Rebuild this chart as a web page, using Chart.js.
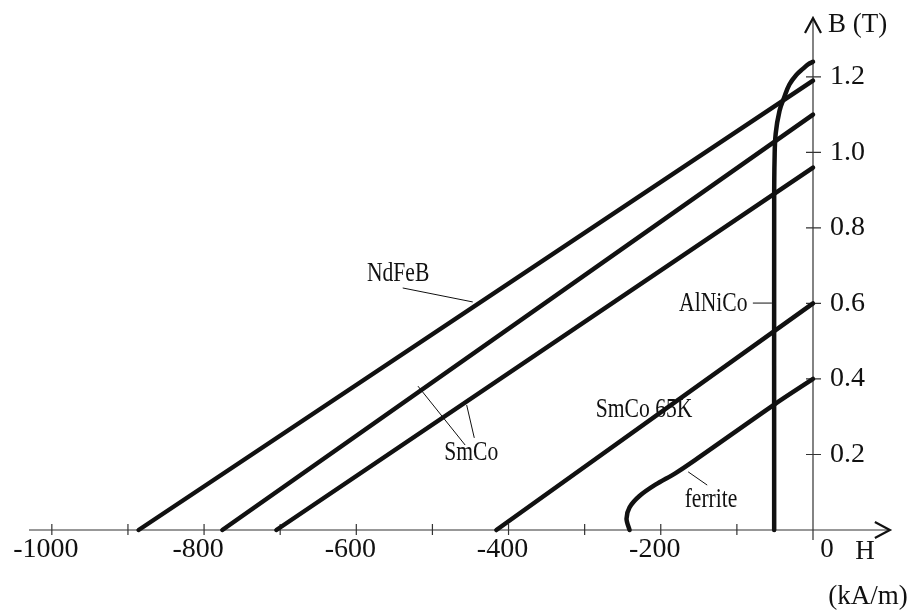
<!DOCTYPE html>
<html lang="en">
<head>
<meta charset="UTF-8">
<title>Demagnetisation curves B(H)</title>
<script src="https://cdn.jsdelivr.net/npm/chart.js@4.4.0/dist/chart.umd.min.js"></script>
<style>
  body { margin: 0; background: #fff; }
  #bh { display: block; }
</style>
</head>
<body>
<canvas id="bh" width="907" height="613"></canvas>
<script>
// H in kA/m, B in T
const ndfebH = [-886, 0];
const ndfebB = [0, 1.19];
const smco1H = [-776, 0];
const smco1B = [0, 1.10];
const smco2H = [-705, 0];
const smco2B = [0, 0.96];
const smco65kH = [-416, 0];
const smco65kB = [0, 0.60];
const ferriteH = [-241, -245, -241, -228, -207, -181, -155, -51, 0];
const ferriteB = [0, 0.03, 0.06, 0.09, 0.12, 0.15, 0.185, 0.332, 0.40];
const alnicoH = [-51, -51, -50.5, -49, -44, -38, -31, -22, -13, -6, 0];
const alnicoB = [0, 0.87, 0.98, 1.05, 1.11, 1.145, 1.18, 1.205, 1.222, 1.234, 1.24];

const xTickValues = [-1000, -900, -800, -700, -600, -500, -400, -300, -200, -100];
const xTickLabels = ['-1000', '', '-800', '', '-600', '', '-400', '', '-200', ''];
const yTickValues = [0.2, 0.4, 0.6, 0.8, 1.0, 1.2];
const yTickLabels = ['0.2', '0.4', '0.6', '0.8', '1.0', '1.2'];

// curve names and their leader lines, in data units
const curveNames = [
  { text: 'NdFeB', h: -545, b: 0.678 },
  { text: 'SmCo', h: -449, b: 0.203 },
  { text: 'SmCo 65K', h: -222, b: 0.318 },
  { text: 'AlNiCo', h: -131, b: 0.599 },
  { text: 'ferrite', h: -134, b: 0.081 }
];
const leaders = [
  [-539, 0.641, -447, 0.604],
  [-457, 0.225, -519, 0.381],
  [-445, 0.244, -455, 0.331],
  [-79, 0.601, -54, 0.601],
  [-164, 0.154, -139, 0.119]
];

const serif = "'Liberation Serif', 'Times New Roman', serif";
const ink = '#111';

function pts(hs, bs) {
  return hs.map((h, i) => ({ x: h, y: bs[i] }));
}
function curve(hs, bs, tension) {
  return {
    data: pts(hs, bs),
    showLine: true,
    borderColor: ink,
    borderWidth: 4.5,
    borderCapStyle: 'round',
    borderJoinStyle: 'round',
    pointRadius: 0,
    tension: tension,
    clip: false
  };
}

const axesPlugin = {
  id: 'axesPlugin',
  beforeDatasetsDraw(chart) {
    const ctx = chart.ctx, xs = chart.scales.x, ys = chart.scales.y;
    const x0 = xs.getPixelForValue(0), y0 = ys.getPixelForValue(0);
    const xEnd = xs.getPixelForValue(101), yTop = chart.chartArea.top;
    ctx.save();
    ctx.strokeStyle = '#333';
    ctx.lineWidth = 1.2;
    ctx.beginPath();
    ctx.moveTo(chart.chartArea.left, y0); ctx.lineTo(xEnd, y0);
    ctx.moveTo(x0, y0 + 10); ctx.lineTo(x0, yTop);
    xs.ticks.forEach(t => {
      const px = xs.getPixelForValue(t.value);
      ctx.moveTo(px, y0 - 6); ctx.lineTo(px, y0 + 5);
    });
    ys.ticks.forEach(t => {
      const py = ys.getPixelForValue(t.value);
      ctx.moveTo(x0 - 7, py); ctx.lineTo(x0 + 8, py);
    });
    ctx.stroke();
    // open arrow heads
    ctx.strokeStyle = ink;
    ctx.lineWidth = 2.2;
    ctx.beginPath();
    ctx.moveTo(xEnd - 15, y0 - 8); ctx.lineTo(xEnd, y0); ctx.lineTo(xEnd - 15, y0 + 8);
    ctx.moveTo(x0 - 8, yTop + 15); ctx.lineTo(x0, yTop); ctx.lineTo(x0 + 8, yTop + 15);
    ctx.stroke();
    ctx.restore();
  },
  afterDatasetsDraw(chart) {
    const ctx = chart.ctx, xs = chart.scales.x, ys = chart.scales.y;
    const x0 = xs.getPixelForValue(0), y0 = ys.getPixelForValue(0);
    ctx.save();
    ctx.strokeStyle = ink;
    ctx.lineWidth = 1;
    ctx.beginPath();
    leaders.forEach(l => {
      ctx.moveTo(xs.getPixelForValue(l[0]), ys.getPixelForValue(l[1]));
      ctx.lineTo(xs.getPixelForValue(l[2]), ys.getPixelForValue(l[3]));
    });
    ctx.stroke();

    ctx.fillStyle = ink;
    ctx.textBaseline = 'middle';
    ctx.textAlign = 'center';
    ctx.font = '27px ' + serif;
    curveNames.forEach(c => {
      ctx.save();
      ctx.translate(xs.getPixelForValue(c.h), ys.getPixelForValue(c.b));
      ctx.scale(0.8, 1);
      ctx.fillText(c.text, 0, 0);
      ctx.restore();
    });

    ctx.font = '27px ' + serif;
    ctx.textAlign = 'left';
    ctx.fillText('B (T)', x0 + 15, chart.chartArea.top + 7);
    ctx.textAlign = 'center';
    ctx.fillText('0', x0 + 14, y0 + 20);
    ctx.fillText('H', x0 + 52, y0 + 22);
    ctx.fillText('(kA/m)', x0 + 55, y0 + 67);
    ctx.restore();
  }
};

new Chart(document.getElementById('bh'), {
  type: 'scatter',
  data: {
    datasets: [
      curve(ndfebH, ndfebB, 0),
      curve(smco1H, smco1B, 0),
      curve(smco2H, smco2B, 0),
      curve(smco65kH, smco65kB, 0),
      curve(ferriteH, ferriteB, 0.3),
      curve(alnicoH, alnicoB, 0.4)
    ]
  },
  options: {
    responsive: false,
    animation: false,
    layout: { padding: { left: 29, top: 18, right: 0, bottom: 0 } },
    plugins: { legend: { display: false }, tooltip: { enabled: false } },
    scales: {
      x: {
        type: 'linear',
        position: 'bottom',
        min: -1030,
        max: 0,
        grid: { display: false, drawTicks: false },
        border: { display: false },
        afterBuildTicks: s => { s.ticks = xTickValues.map(v => ({ value: v })); },
        afterFit: s => { s.height = 83; },
        ticks: {
          color: ink,
          font: { family: serif, size: 28 },
          padding: 3,
          labelOffset: -6,
          autoSkip: false,
          maxRotation: 0,
          callback: (v, i) => xTickLabels[i] || ''
        }
      },
      y: {
        type: 'linear',
        position: 'right',
        min: 0,
        max: 1.356,
        grid: { display: false, drawTicks: false },
        border: { display: false },
        afterBuildTicks: s => { s.ticks = yTickValues.map(v => ({ value: v })); },
        afterFit: s => { s.width = 94; s.paddingTop = 0; s.paddingBottom = 0; },
        ticks: {
          color: ink,
          font: { family: serif, size: 28 },
          padding: 17,
          callback: (v, i) => yTickLabels[i] || ''
        }
      }
    }
  },
  plugins: [axesPlugin]
});
</script>
</body>
</html>
